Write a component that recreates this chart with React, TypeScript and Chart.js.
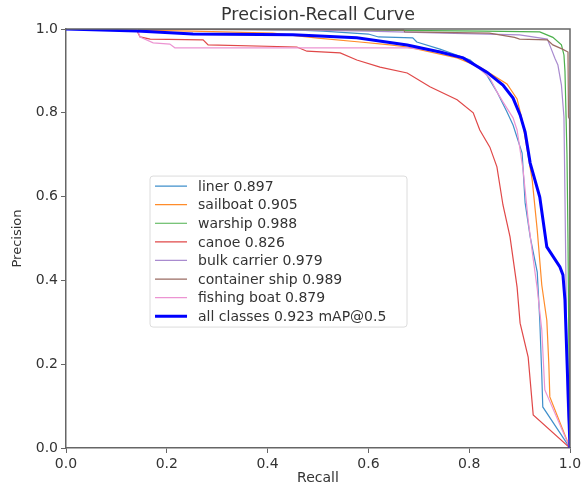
import React, { useEffect, useRef } from "react";
import { Chart, registerables } from "chart.js";

Chart.register(...registerables);

// ---- data (recall, precision) ----
const axisTicks = [0, 0.2, 0.4, 0.6, 0.8, 1.0];
const chartTitle = "Precision-Recall Curve";

const linerLabel = "liner 0.897";
const sailboatLabel = "sailboat 0.905";
const warshipLabel = "warship 0.988";
const canoeLabel = "canoe 0.826";
const bulkLabel = "bulk carrier 0.979";
const containerLabel = "container ship 0.989";
const fishingLabel = "fishing boat 0.879";
const allLabel = "all classes 0.923 mAP@0.5";

const linerPR = [
  [0, 1], [0.3, 1], [0.45, 0.998], [0.51, 0.995], [0.6, 0.988], [0.62, 0.981], [0.688, 0.979],
  [0.696, 0.969], [0.742, 0.952], [0.802, 0.926], [0.835, 0.89], [0.855, 0.85], [0.875, 0.802],
  [0.887, 0.771], [0.905, 0.704], [0.911, 0.585], [0.921, 0.504], [0.935, 0.42], [0.94, 0.305],
  [0.944, 0.174], [0.946, 0.098], [1, 0],
];
const sailboatPR = [
  [0, 1], [0.25, 0.995], [0.41, 0.99], [0.5, 0.978], [0.583, 0.969], [0.643, 0.962], [0.677, 0.957],
  [0.776, 0.931], [0.821, 0.909], [0.875, 0.869], [0.895, 0.833], [0.905, 0.783], [0.925, 0.64],
  [0.935, 0.52], [0.944, 0.389], [0.954, 0.305], [0.958, 0.2], [0.96, 0.122], [1, 0],
];
const warshipPR = [
  [0, 1], [0.55, 0.998], [0.83, 0.995], [0.94, 0.993], [0.966, 0.98], [0.983, 0.962], [0.988, 0.938],
  [0.99, 0.9], [0.994, 0.7], [0.996, 0.5], [0.998, 0.2], [1, 0],
];
const canoePR = [
  [0, 1], [0.139, 1], [0.147, 0.981], [0.167, 0.976], [0.272, 0.974], [0.282, 0.962], [0.458, 0.957],
  [0.478, 0.947], [0.544, 0.943], [0.577, 0.926], [0.623, 0.909], [0.677, 0.895], [0.722, 0.862],
  [0.776, 0.831], [0.808, 0.8], [0.821, 0.759], [0.841, 0.718], [0.855, 0.671], [0.867, 0.58],
  [0.881, 0.504], [0.895, 0.384], [0.901, 0.298], [0.917, 0.217], [0.927, 0.079], [1, 0],
];
const bulkPR = [
  [0, 1], [0.45, 0.998], [0.6, 0.995], [0.75, 0.99], [0.9, 0.986], [0.955, 0.976], [0.962, 0.955],
  [0.97, 0.93], [0.976, 0.914], [0.983, 0.866], [0.988, 0.79], [0.99, 0.6], [0.992, 0.4],
  [0.995, 0.1], [1, 0],
];
const containerPR = [
  [0, 1], [0.67, 0.998], [0.672, 0.993], [0.84, 0.99], [0.89, 0.98], [0.9, 0.976], [0.955, 0.974],
  [0.966, 0.962], [0.985, 0.952], [0.996, 0.945], [0.997, 0.79], [0.999, 0.785], [1, 0.5], [1, 0],
];
const fishingPR = [
  [0, 1], [0.141, 1], [0.147, 0.981], [0.173, 0.967], [0.206, 0.964], [0.216, 0.955], [0.677, 0.955],
  [0.742, 0.947], [0.788, 0.931], [0.817, 0.909], [0.841, 0.883], [0.855, 0.85], [0.867, 0.826],
  [0.887, 0.788], [0.895, 0.759], [0.907, 0.663], [0.917, 0.544], [0.927, 0.451], [0.935, 0.38],
  [0.944, 0.282], [0.95, 0.139], [0.956, 0.122], [1, 0],
];
const allPR = [
  [0, 1], [0.141, 0.995], [0.252, 0.988], [0.45, 0.986], [0.577, 0.979], [0.677, 0.962],
  [0.742, 0.945], [0.788, 0.931], [0.835, 0.897], [0.867, 0.866], [0.887, 0.835], [0.901, 0.795],
  [0.911, 0.754], [0.921, 0.68], [0.94, 0.599], [0.954, 0.48], [0.98, 0.432], [0.986, 0.413],
  [0.99, 0.353], [0.994, 0.21], [1, 0],
];

const FONT = "'DejaVu Sans', sans-serif";

const toXY = (arr: number[][]) => arr.map(([x, y]) => ({ x, y }));

const innerLegend = {
  id: "innerLegend",
  afterDatasetsDraw(chart: any) {
    const { ctx, chartArea: a } = chart;
    const w = a.right - a.left;
    const h = a.bottom - a.top;
    const x0 = a.left + 0.1667 * w;
    const y0 = a.top + 0.351 * h;
    const bw = 257;
    const bh = 151;
    ctx.save();
    ctx.beginPath();
    const r = 3;
    ctx.moveTo(x0 + r, y0);
    ctx.lineTo(x0 + bw - r, y0);
    ctx.quadraticCurveTo(x0 + bw, y0, x0 + bw, y0 + r);
    ctx.lineTo(x0 + bw, y0 + bh - r);
    ctx.quadraticCurveTo(x0 + bw, y0 + bh, x0 + bw - r, y0 + bh);
    ctx.lineTo(x0 + r, y0 + bh);
    ctx.quadraticCurveTo(x0, y0 + bh, x0, y0 + bh - r);
    ctx.lineTo(x0, y0 + r);
    ctx.quadraticCurveTo(x0, y0, x0 + r, y0);
    ctx.closePath();
    ctx.fillStyle = "rgba(255,255,255,0.8)";
    ctx.fill();
    ctx.strokeStyle = "#dcdcdc";
    ctx.lineWidth = 1;
    ctx.stroke();
    ctx.font = `14px ${FONT}`;
    ctx.textBaseline = "middle";
    ctx.textAlign = "left";
    chart.data.datasets.forEach((ds: any, i: number) => {
      const y = y0 + 10 + i * 18.6;
      ctx.beginPath();
      ctx.strokeStyle = ds.borderColor;
      ctx.lineWidth = ds.borderWidth;
      ctx.moveTo(x0 + 5, y);
      ctx.lineTo(x0 + 37, y);
      ctx.stroke();
      ctx.fillStyle = "#333";
      ctx.fillText(ds.label, x0 + 48, y + 1);
    });
    ctx.restore();
  },
};

const frameBox = {
  id: "frameBox",
  afterDraw(chart: any) {
    const { ctx, chartArea: a } = chart;
    ctx.save();
    ctx.strokeStyle = "#666";
    ctx.lineWidth = 1.5;
    ctx.beginPath();
    ctx.moveTo(a.left, a.top);
    ctx.lineTo(a.right, a.top);
    ctx.lineTo(a.right, a.bottom);
    ctx.stroke();
    // title centred over the plot area
    ctx.fillStyle = "#333";
    ctx.font = `17.5px ${FONT}`;
    ctx.textAlign = "center";
    ctx.textBaseline = "middle";
    ctx.fillText(chartTitle, (a.left + a.right) / 2, 15);
    ctx.restore();
  },
};

export default function App() {
  const ref = useRef<HTMLCanvasElement | null>(null);

  useEffect(() => {
    document.body.style.margin = "0";
    if (!ref.current) return;
    const mk = (label: string, pts: number[][], color: string, width: number, order: number) => ({
      label,
      data: toXY(pts),
      borderColor: color,
      backgroundColor: color,
      borderWidth: width,
      pointRadius: 0,
      tension: 0,
      fill: false,
      order,
    });
    const chart = new Chart(ref.current, {
      type: "line",
      data: {
        datasets: [
          mk(linerLabel, linerPR, "#3f8fcb", 1.2, 7),
          mk(sailboatLabel, sailboatPR, "#ff8c2a", 1.2, 6),
          mk(warshipLabel, warshipPR, "#4cb04c", 1.2, 5),
          mk(canoeLabel, canoePR, "#e04848", 1.2, 4),
          mk(bulkLabel, bulkPR, "#a98bcf", 1.2, 3),
          mk(containerLabel, containerPR, "#9a6b62", 1.2, 2),
          mk(fishingLabel, fishingPR, "#ec94d2", 1.2, 1),
          mk(allLabel, allPR, "#0000ff", 3, 0),
        ],
      },
      options: {
        animation: false,
        responsive: false,
        layout: { padding: { left: 0, right: 18, top: 29, bottom: 0 } },
        plugins: {
          legend: { display: false },
          tooltip: { enabled: false },
          title: { display: false },
        },
        scales: {
          x: {
            type: "linear",
            min: 0,
            max: 1,
            afterBuildTicks: (s: any) => {
              s.ticks = axisTicks.map((v) => ({ value: v }));
            },
            afterFit: (s: any) => {
              s.height = 40;
            },
            ticks: {
              color: "#333",
              font: { family: FONT, size: 14 },
              padding: 3,
              maxRotation: 0,
              callback: (v: any) => Number(v).toFixed(1),
            },
            grid: { drawOnChartArea: false, drawTicks: true, tickLength: 5, color: "#666" },
            border: { display: true, color: "#666", width: 1.5 },
            title: {
              display: true,
              text: "Recall",
              color: "#333",
              font: { family: FONT, size: 14 },
              padding: { top: 0, bottom: 1 },
            },
          },
          y: {
            type: "linear",
            min: 0,
            max: 1,
            afterBuildTicks: (s: any) => {
              s.ticks = axisTicks.map((v) => ({ value: v }));
            },
            afterFit: (s: any) => {
              s.width = 66;
            },
            ticks: {
              color: "#333",
              font: { family: FONT, size: 14 },
              padding: 3,
              callback: (v: any) => Number(v).toFixed(1),
            },
            grid: { drawOnChartArea: false, drawTicks: true, tickLength: 5, color: "#666" },
            border: { display: true, color: "#666", width: 1.5 },
            title: {
              display: true,
              text: "Precision",
              color: "#333",
              font: { family: FONT, size: 13 },
              padding: { top: 10, bottom: 0 },
            },
          },
        },
      },
      plugins: [innerLegend, frameBox],
    } as any);
    return () => chart.destroy();
  }, []);

  return (
    <div style={{ width: 588, height: 488 }}>
      <canvas ref={ref} width={588} height={488} />
    </div>
  );
}
